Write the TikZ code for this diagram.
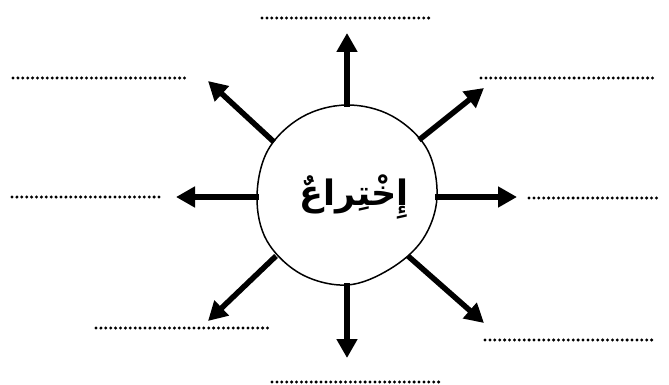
\documentclass[tikz,border=0pt]{standalone}
\usepackage{fontspec}
\newfontfamily\arabicfont[Script=Arabic]{DejaVu Sans}
\TeXXeTstate=1
\usetikzlibrary{arrows.meta}
\begin{document}
\begin{tikzpicture}[x=1pt,y=-1pt,
  bigarrow/.style={line width=5.5pt,-{Triangle[length=19pt,width=20pt]}},
  dotline/.style={line width=3.3pt,line cap=round,dash pattern=on 0pt off 4.9pt},
  blob/.style={line width=1.5pt}]
\useasboundingbox (0,0) rectangle (669,385);
% blob outline
\draw[blob] plot[smooth cycle,tension=0.6] coordinates {
  (437,197) (423,239) (390,269) (347,285) (301,274) (267,241)
  (257,197) (268,150) (302,117) (347,105) (392,116) (427,149)};
\node (c) at (354,197) {\arabicfont\bfseries\fontsize{35}{40}\selectfont\beginR إِخْتِراعٌ\endR};
% arrow start points (on the blob)
\coordinate (sN) at (347,107);
\coordinate (sS) at (347,283);
\coordinate (sW) at (259,197);
\coordinate (sE) at (435,197);
\coordinate (sNW) at (274,142);
\coordinate (sNE) at (419,140);
\coordinate (sSW) at (276,256);
\coordinate (sSE) at (408,256);
% arrow tips
\coordinate (tN) at (347,33);
\coordinate (tS) at (347,358);
\coordinate (tW) at (176,197);
\coordinate (tE) at (517,197);
\coordinate (tNW) at (208,81);
\coordinate (tNE) at (484,88);
\coordinate (tSW) at (208,321);
\coordinate (tSE) at (484,323);
\foreach \d in {N,S,W,E,NW,NE,SW,SE} \draw[bigarrow] (s\d) -- (t\d);
% dotted answer lines
\coordinate (aN1) at (262,18);  \coordinate (aN2) at (433,18);
\coordinate (aNW1) at (13,78);  \coordinate (aNW2) at (186,78);
\coordinate (aNE1) at (481,78); \coordinate (aNE2) at (654,78);
\coordinate (aW1) at (12,197);  \coordinate (aW2) at (160,197);
\coordinate (aE1) at (529,198); \coordinate (aE2) at (657,198);
\coordinate (aSW1) at (96,328); \coordinate (aSW2) at (268,328);
\coordinate (aSE1) at (485,340); \coordinate (aSE2) at (656,340);
\coordinate (aS1) at (272,382); \coordinate (aS2) at (443,382);
\foreach \d in {N,NW,NE,W,E,SW,SE,S} \draw[dotline] (a\d1) -- (a\d2);
\end{tikzpicture}
\end{document}
